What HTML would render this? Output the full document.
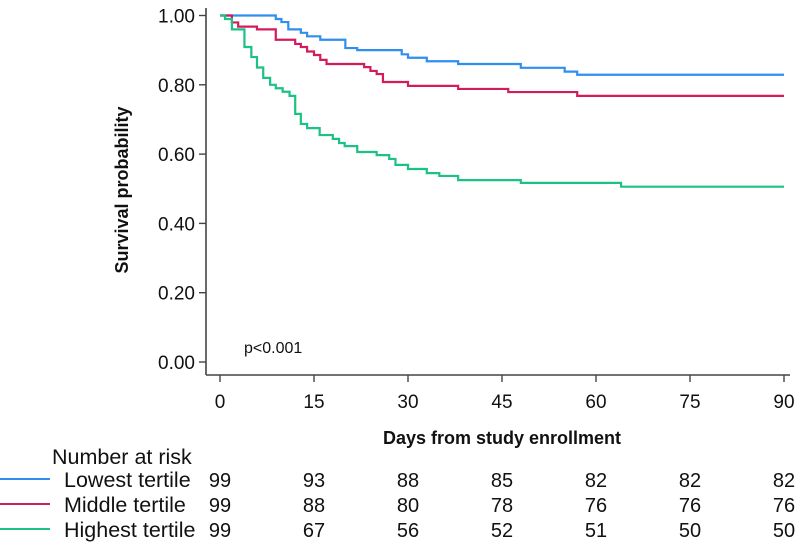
<!DOCTYPE html>
<html><head><meta charset="utf-8"><style>
body{margin:0;background:#fff}
svg{display:block;font-family:"Liberation Sans",Arial,sans-serif}
</style></head><body>
<svg id="chart" width="800" height="544" viewBox="0 0 800 544">
<g id="axes"></g><g id="curves"></g><g id="table"></g>
</svg>
<script>
const xTicks=[0,15,30,45,60,75,90];
const yTicks=[0,0.2,0.4,0.6,0.8,1.0];
const groupNames=["Lowest tertile","Middle tertile","Highest tertile"];
const groupColors=["#2e8ff0","#d41c5c","#1cc284"];
const lowDays=[0,8.9,9.8,10.9,12.9,13.9,16,20,21.9,29,30,33,38,48,55,57,90];
const lowSurv=[1,0.99,0.981,0.96,0.95,0.94,0.93,0.906,0.9,0.888,0.878,0.868,0.86,0.849,0.838,0.829,0.829];
const midDays=[0,1.9,2.9,5.9,8.9,12,12.9,13.9,15,16,17,23,24,25,26,30,38,46,57,90];
const midSurv=[1,0.98,0.968,0.96,0.93,0.918,0.909,0.896,0.886,0.872,0.86,0.851,0.84,0.831,0.808,0.797,0.788,0.779,0.768,0.768];
const highDays=[0,0.8,1.9,3.9,5,5.9,6.9,8,8.9,10,11.1,12,12.9,13.9,15.9,18,19,19.9,21.9,25,27,28,30,33,35,38,48,64,90];
const highSurv=[1,0.99,0.96,0.909,0.88,0.85,0.82,0.8,0.79,0.78,0.768,0.716,0.687,0.675,0.655,0.644,0.632,0.623,0.606,0.597,0.586,0.569,0.557,0.545,0.537,0.525,0.517,0.506,0.506];
const riskLow=[99,93,88,85,82,82,82];
const riskMid=[99,88,80,78,76,76,76];
const riskHigh=[99,67,56,52,51,50,50];

const NS="http://www.w3.org/2000/svg";
const X0=220,X1=784,Y0=362,Y1=15.5;
const xs=d=>X0+(X1-X0)*d/90;
const ys=v=>Y0-(Y0-Y1)*v;
function mk(tag,attrs,parent,text){const e=document.createElementNS(NS,tag);for(const k in attrs)e.setAttribute(k,attrs[k]);if(text!==undefined)e.textContent=text;parent.appendChild(e);return e;}
const axes=document.getElementById('axes');
let e=mk('line',{x1:206,y1:8,x2:206,y2:375,stroke:'#444','stroke-width':1.6},axes);


e=mk('line',{x1:206,y1:375,x2:790,y2:375,stroke:'#444','stroke-width':1.6},axes);


yTicks.forEach(v=>{
  mk('line',{x1:199,y1:ys(v),x2:206,y2:ys(v),stroke:'#444','stroke-width':1.4},axes);
  const t=mk('text',{x:195,y:ys(v)+7,'text-anchor':'end','font-size':19,fill:'#111'},axes,v.toFixed(2));
  
  
});
xTicks.forEach(d=>{
  mk('line',{x1:xs(d),y1:375,x2:xs(d),y2:382,stroke:'#444','stroke-width':1.4},axes);
  const t=mk('text',{x:xs(d),y:408,'text-anchor':'middle','font-size':19,fill:'#111'},axes,String(d));
  
  
});
e=mk('text',{x:502,y:444,'text-anchor':'middle','font-size':18,'font-weight':'bold',fill:'#111'},axes,'Days from study enrollment');


e=mk('text',{x:0,y:0,'text-anchor':'middle','font-size':18,'font-weight':'bold',fill:'#111',transform:'translate(128,190) rotate(-90)'},axes,'Survival probability');


e=mk('text',{x:244,y:353,'font-size':16,fill:'#111'},axes,'p<0.001');



const curves=document.getElementById('curves');
const series=[[lowDays,lowSurv],[midDays,midSurv],[highDays,highSurv]];
const curveNames=['curve-lowest-tertile','curve-middle-tertile','curve-highest-tertile'];
series.forEach((s,i)=>{
  const [d,v]=s;let p='M'+xs(d[0])+','+ys(v[0]);
  for(let k=1;k<d.length;k++){p+=' H'+xs(d[k])+' V'+ys(v[k]);}
  const path=mk('path',{d:p,fill:'none',stroke:groupColors[i],'stroke-width':2.2},curves);
  
  
});

const table=document.getElementById('table');
e=mk('text',{x:52,y:464,'font-size':21.5,fill:'#111'},table,'Number at risk');


const risks=[riskLow,riskMid,riskHigh];
const rowY=[479,504,529];
risks.forEach((r,i)=>{
  const l=mk('line',{x1:0,y1:rowY[i],x2:50,y2:rowY[i],stroke:groupColors[i],'stroke-width':2},table);
  
  
  const t=mk('text',{x:64,y:rowY[i]+8,'font-size':21.5,fill:'#111'},table,groupNames[i]);
  
  
  r.forEach((n,k)=>{
    const c=mk('text',{x:xs(xTicks[k]),y:rowY[i]+8,'text-anchor':'middle','font-size':20,fill:'#111'},table,String(n));
    
    
  });
});
</script>
</body></html>
